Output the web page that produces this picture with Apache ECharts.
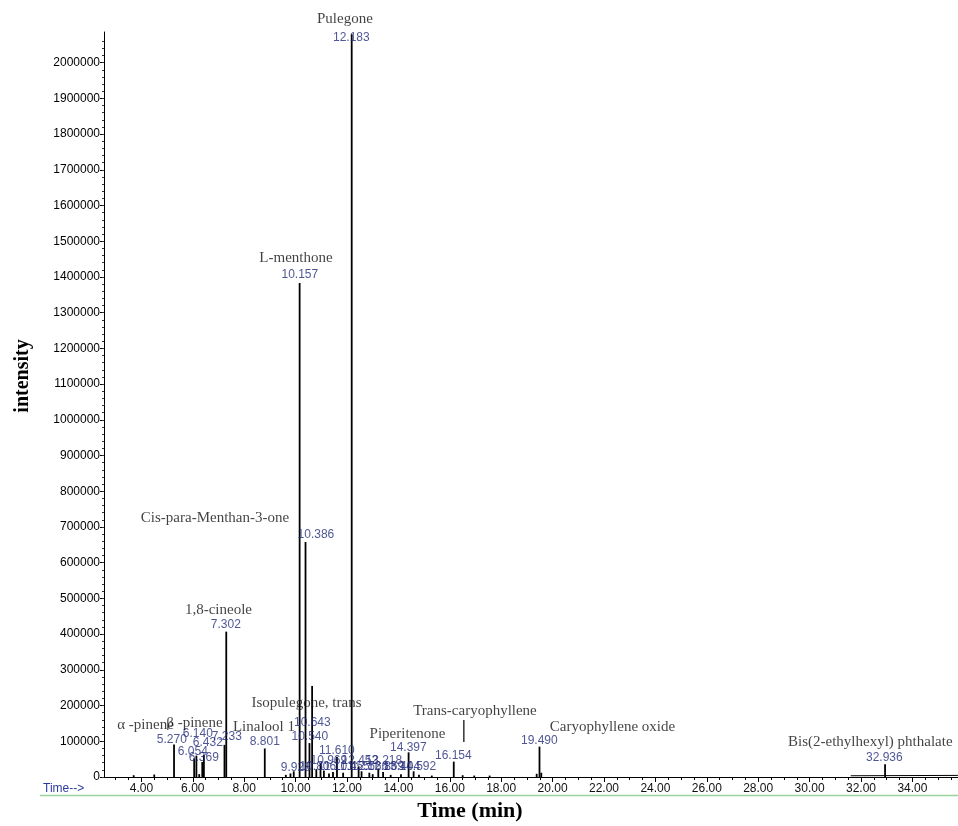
<!DOCTYPE html>
<html>
<head>
<meta charset="utf-8">
<title>GC-MS total ion chromatogram</title>
<script src="https://cdn.jsdelivr.net/npm/echarts@6/dist/echarts.min.js"></script>
<style>
  html, body { margin: 0; padding: 0; background: #ffffff; }
  #chart { width: 958px; height: 826px; }
</style>
</head>
<body>
<div id="chart"></div>
<script>
// ---- Data -------------------------------------------------------------

// Identified / integrated peaks: retention time (min) and intensity
const peakTimes = [5.270, 6.054, 6.140, 6.369, 6.432, 7.233, 7.302, 8.801, 9.928,
  10.157, 10.386, 10.540, 10.643, 10.806, 10.969, 11.101, 11.455, 11.610, 12.183,
  12.452, 12.566, 12.869, 13.218, 13.404, 14.397, 14.592, 16.154, 19.490, 32.936];
const peakHeights = [91000, 52000, 60000, 42000, 62000, 90000, 407000, 80000, 16000,
  1383000, 658000, 95000, 255000, 22000, 38000, 18000, 14000, 57000, 2080000,
  30000, 16000, 12000, 24000, 14000, 69000, 16000, 43000, 85000, 36000];

// Where each retention-time label sits (time, intensity)
const rtLabelTime = [5.185, 6.002, 6.196, 6.430, 6.585, 7.325, 7.286, 8.804, 10.01,
  10.165, 10.79, 10.555, 10.652, 10.865, 11.294, 11.566, 12.19, 11.605, 12.17,
  12.50, 12.89, 13.51, 13.434, 14.13, 14.387, 14.757, 16.138, 19.484, 32.909];
const rtLabelLevel = [103600, 70000, 120400, 53200, 95200, 112000, 425600, 98000, 25200,
  1405600, 677600, 112000, 151200, 28000, 44800, 28000, 28000, 72800, 2069200,
  44800, 28000, 28000, 44800, 28000, 81200, 28000, 58800, 100800, 53200];

// Small unlabelled baseline peaks
const minorTimes = [3.70, 4.50, 6.25, 9.62, 9.80, 11.30, 11.85, 13.00, 13.70, 14.10,
  14.80, 15.30, 16.50, 16.95, 17.55, 19.38, 19.56];
const minorHeights = [5000, 7000, 8000, 6000, 10000, 10000, 12000, 8000, 6000, 8000,
  6000, 4000, 5000, 4000, 4000, 9000, 12000];

// Compound names and their anchor (time, intensity)
const compoundNames = ['Pulegone', 'L-menthone', 'Cis-para-Menthan-3-one', '1,8-cineole',
  'Isopulegone, trans', 'α -pinene', 'β -pinene', 'Linalool 1', 'Piperitenone',
  'Trans-caryophyllene', 'Caryophyllene oxide', 'Bis(2-ethylhexyl) phthalate'];
const nameTime = [11.92, 10.016, 6.864, 7.0, 10.424, 4.16, 6.066, 8.77, 14.354,
  16.98, 22.33, 29.16];
const nameLevel = [2122400, 1453200, 725200, 467600, 207200, 145600, 151200, 140000,
  120400, 184800, 140000, 98000];

// Leader stroke under the Trans-caryophyllene label
const leaderTime = 16.547;
const leaderRange = [159600, 98000];

// Column bleed at the end of the run
const bleedTimes = [31.6, 35.77];
const bleedLevels = [3500, 4500];

// Axis ticks
const xTickValues = [4, 6, 8, 10, 12, 14, 16, 18, 20, 22, 24, 26, 28, 30, 32, 34];
const yTickValues = [0, 100000, 200000, 300000, 400000, 500000, 600000, 700000,
  800000, 900000, 1000000, 1100000, 1200000, 1300000, 1400000, 1500000, 1600000,
  1700000, 1800000, 1900000, 2000000];

// ---- Chart ------------------------------------------------------------

const X_MIN = 2.545, X_MAX = 35.774, Y_MAX = 2086000;

const xMinorTicks = [];
for (let t = 3; t < X_MAX; t += 0.5) xMinorTicks.push(t);
const yMinorTicks = [];
for (let v = 0; v <= 2060000; v += 20000) yMinorTicks.push(v);

const stickData = [];
peakTimes.forEach((t, i) => stickData.push([t, peakHeights[i]]));
minorTimes.forEach((t, i) => stickData.push([t, minorHeights[i]]));

const rtData = peakTimes.map((t, i) => ({
  value: [rtLabelTime[i], rtLabelLevel[i]],
  text: t.toFixed(3)
}));
const nameData = compoundNames.map((n, i) => ({
  value: [nameTime[i], nameLevel[i]],
  text: n,
  label: n.indexOf('Bis') === 0 ? { align: 'left' } : undefined
}));

const SANS = '"Liberation Sans", Arial, sans-serif';
const SERIF = '"Liberation Serif", "Times New Roman", serif';

const chart = echarts.init(document.getElementById('chart'), null, { renderer: 'canvas' });

chart.setOption({
  animation: false,
  backgroundColor: '#ffffff',
  grid: { left: 104, right: 0, top: 32, bottom: 49, containLabel: false },
  xAxis: [
    {
      type: 'value', min: X_MIN, max: X_MAX, position: 'bottom',
      axisLine: { show: true, onZero: false, lineStyle: { color: '#000', width: 1 } },
      axisTick: { show: true, customValues: xTickValues, length: 5, lineStyle: { color: '#000' } },
      axisLabel: {
        customValues: xTickValues, margin: 6, fontSize: 12, color: '#111',
        fontFamily: SANS, formatter: v => Number(v).toFixed(2)
      },
      splitLine: { show: false }
    },
    {
      type: 'value', min: X_MIN, max: X_MAX, position: 'bottom',
      axisLine: { show: false, onZero: false },
      axisTick: { show: true, customValues: xMinorTicks, length: 3, lineStyle: { color: '#000' } },
      axisLabel: { show: false },
      splitLine: { show: false }
    }
  ],
  yAxis: [
    {
      type: 'value', min: 0, max: Y_MAX, position: 'left',
      axisLine: { show: true, onZero: false, lineStyle: { color: '#000', width: 1 } },
      axisTick: { show: true, customValues: yTickValues, length: 4, lineStyle: { color: '#000' } },
      axisLabel: {
        customValues: yTickValues, margin: 4, fontSize: 12, color: '#000',
        fontFamily: SANS, formatter: v => String(Math.round(v))
      },
      splitLine: { show: false }
    },
    {
      type: 'value', min: 0, max: Y_MAX, position: 'left',
      axisLine: { show: false, onZero: false },
      axisTick: { show: true, customValues: yMinorTicks, length: 2, lineStyle: { color: '#333' } },
      axisLabel: { show: false },
      splitLine: { show: false }
    }
  ],
  series: [
    {
      name: 'TIC', type: 'bar', xAxisIndex: 0, yAxisIndex: 0,
      data: stickData, barWidth: 1.8, silent: true,
      itemStyle: { color: '#000' }
    },
    {
      name: 'bleed', type: 'line', xAxisIndex: 0, yAxisIndex: 0,
      data: bleedTimes.map((t, i) => [t, bleedLevels[i]]),
      symbol: 'none', silent: true, lineStyle: { color: '#000', width: 1 }
    },
    {
      name: 'leader', type: 'line', xAxisIndex: 0, yAxisIndex: 0,
      data: leaderRange.map(v => [leaderTime, v]),
      symbol: 'none', silent: true, lineStyle: { color: '#000', width: 1.2 }
    },
    {
      name: 'rt', type: 'scatter', xAxisIndex: 0, yAxisIndex: 0, clip: false,
      data: rtData, symbolSize: 1, silent: true, z: 5,
      itemStyle: { color: 'rgba(0,0,0,0)' },
      label: {
        show: true, position: 'inside', formatter: p => p.data.text,
        fontFamily: SANS, fontSize: 12, color: '#232c7a'
      }
    },
    {
      name: 'compounds', type: 'scatter', xAxisIndex: 0, yAxisIndex: 0, clip: false,
      data: nameData, symbolSize: 1, silent: true, z: 6,
      itemStyle: { color: 'rgba(0,0,0,0)' },
      label: {
        show: true, position: 'inside', formatter: p => p.data.text,
        fontFamily: SERIF, fontSize: 15, color: '#111'
      }
    }
  ],
  graphic: [
    {
      type: 'text', x: 23, y: 376, rotation: Math.PI / 2,
      style: {
        text: 'intensity', fill: '#000', align: 'center', verticalAlign: 'middle',
        font: 'bold 20px ' + SERIF
      }
    },
    {
      type: 'text', x: 470, y: 811,
      style: {
        text: 'Time (min)', fill: '#000', align: 'center', verticalAlign: 'middle',
        font: 'bold 22px ' + SERIF
      }
    },
    {
      type: 'text', x: 43, y: 789,
      style: {
        text: 'Time-->', fill: '#2b3aa0', align: 'left', verticalAlign: 'middle',
        font: '12px ' + SANS
      }
    },
    {
      type: 'line', shape: { x1: 40, y1: 795.5, x2: 958, y2: 795.5 },
      style: { stroke: '#9bd39b', lineWidth: 1.5 }, silent: true
    }
  ]
});
</script>
</body>
</html>
